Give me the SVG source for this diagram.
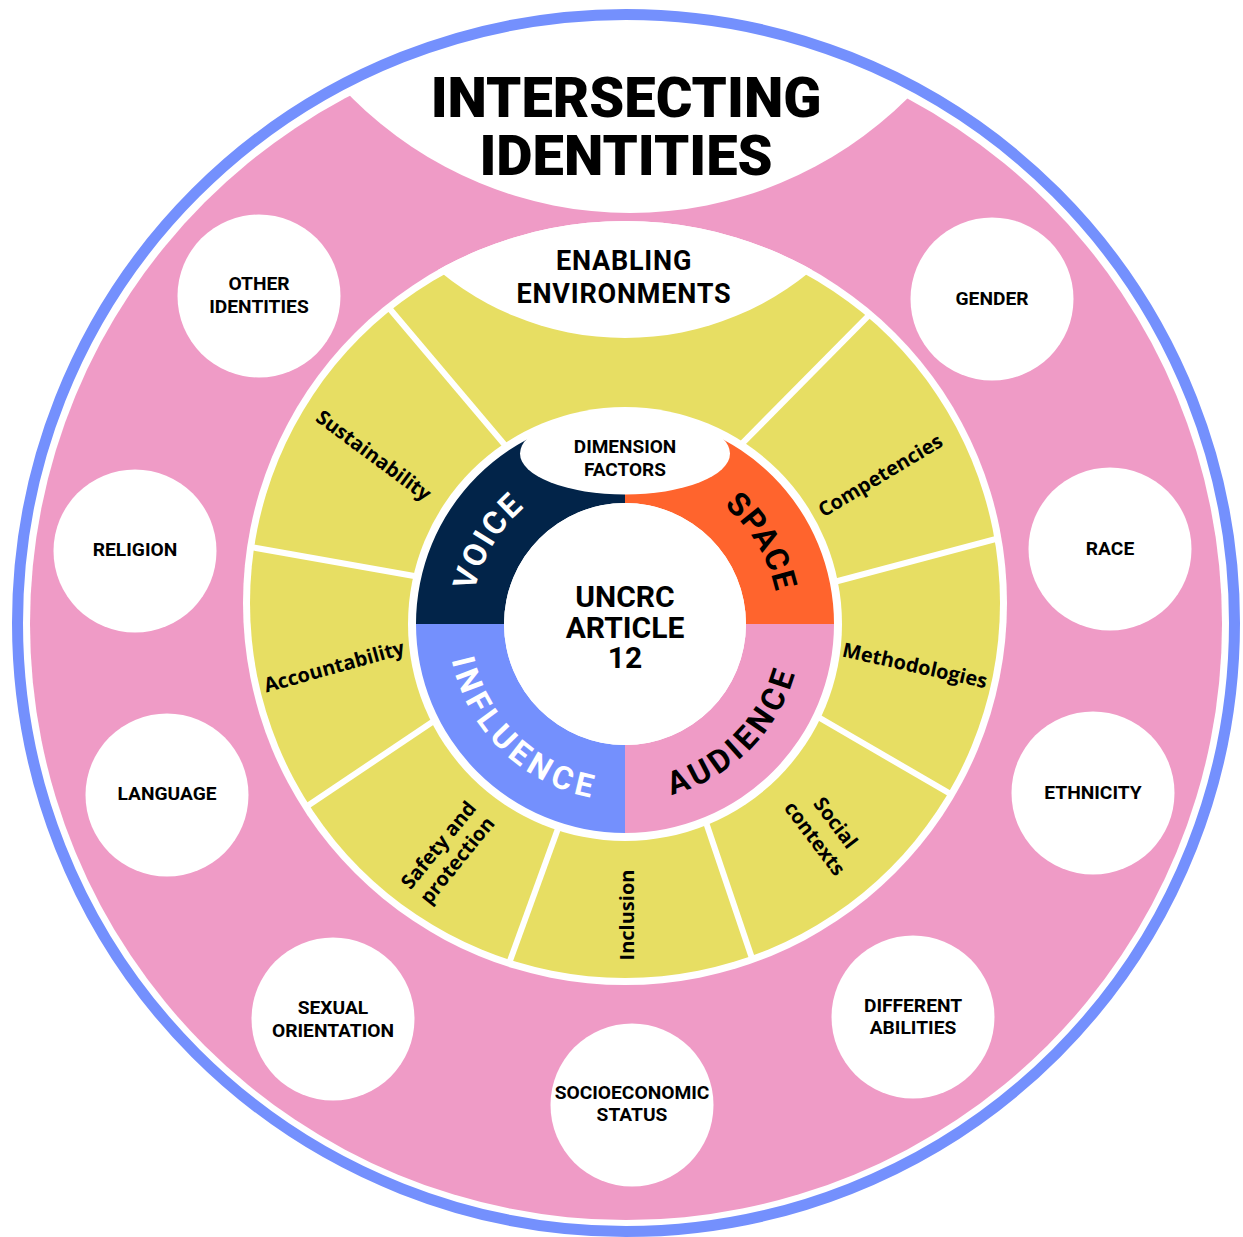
<svg xmlns="http://www.w3.org/2000/svg" xmlns:xlink="http://www.w3.org/1999/xlink" width="1243" height="1237" viewBox="0 0 1243 1237">
  <defs>
    <style>
      .title{font-family:Roboto,"Liberation Sans",sans-serif;font-weight:900;font-size:56px;fill:#000;text-anchor:middle}
      .env{font-family:Roboto,"Liberation Sans",sans-serif;font-weight:700;font-size:27px;letter-spacing:0.8px;fill:#000;text-anchor:middle}
      .dimf{font-family:Roboto,"Liberation Sans",sans-serif;font-weight:700;font-size:19px;fill:#000;text-anchor:middle}
      .center{font-family:Roboto,"Liberation Sans",sans-serif;font-weight:700;font-size:30px;fill:#000;text-anchor:middle}
      .dim{font-family:Roboto,"Liberation Sans",sans-serif;font-weight:700;font-size:32px;text-anchor:middle}
      .seg{font-family:"Open Sans","Liberation Sans",sans-serif;font-weight:700;font-size:20px;fill:#000;text-anchor:middle;dominant-baseline:central}
      .id{font-family:Roboto,"Liberation Sans",sans-serif;font-weight:700;font-size:19.2px;fill:#000;text-anchor:middle}
      .idc{fill:#fff}
      .div{stroke:#fff;stroke-width:6;fill:none}
    </style>
    <clipPath id="ringClip"><circle cx="625" cy="603" r="382"/></clipPath>
    <clipPath id="yellowClip"><circle cx="625" cy="603" r="376"/></clipPath>
    <path id="arcVoice" d="M 490.3,698.7 A 154 154 0 0 1 627.7,470"/>
    <path id="arcSpace" d="M 622.3,470 A 154 154 0 0 1 759.7,698.7"/>
    <path id="arcInfluence" d="M 453.3,581.2 A 177 177 0 0 0 673.8,794.1"/>
    <path id="arcAudience" d="M 582.2,795.8 A 177 177 0 0 0 796.8,581.2"/>
  </defs>

  <rect x="0" y="0" width="1243" height="1237" fill="#fff"/>

  <g id="outer-ring">
    <circle cx="626" cy="624" r="596" fill="#EF9BC6"/>
    <circle cx="630" cy="-180" r="393" fill="#fff"/>
    <circle cx="626" cy="623" r="608.5" fill="none" stroke="#7490FD" stroke-width="11"/>
  </g>

  <g id="title">
    <text class="title" x="626" y="117">INTERSECTING</text>
    <text class="title" x="626" y="175">IDENTITIES</text>
  </g>

  <g id="enabling-ring">
    <circle cx="625" cy="603" r="382" fill="#fff"/>
    <circle cx="625" cy="603" r="375" fill="#E7DE63"/>
    <circle cx="625" cy="47" r="291" fill="#fff" clip-path="url(#ringClip)"/>
  </g>

  <g id="connectors" clip-path="url(#yellowClip)">
    <line class="div" x1="539.5" y1="486" x2="373" y2="289"/>
    <line class="div" x1="707" y1="479" x2="885" y2="299"/>
    <line class="div" x1="465" y1="585" x2="228" y2="543"/>
    <line class="div" x1="789" y1="594" x2="1022" y2="532"/>
    <line class="div" x1="471" y1="696" x2="291" y2="817"/>
    <line class="div" x1="782" y1="696" x2="966" y2="803"/>
    <line class="div" x1="572" y1="790" x2="503" y2="980"/>
    <line class="div" x1="694" y1="787" x2="758" y2="976"/>
  </g>

  <g id="enabling-environments">
    <text class="env" x="624" y="270">ENABLING</text>
    <text class="env" x="624" y="303">ENVIRONMENTS</text>
  </g>

  <g id="seg-sustainability"><text class="seg" transform="translate(374,455) rotate(36.5)">Sustainability</text></g>
  <g id="seg-competencies"><text class="seg" transform="translate(880,475) rotate(-31)">Competencies</text></g>
  <g id="seg-accountability"><text class="seg" transform="translate(334,666) rotate(-15.5)">Accountability</text></g>
  <g id="seg-methodologies"><text class="seg" transform="translate(915,665) rotate(12.5)">Methodologies</text></g>
  <g id="seg-safety"><text class="seg" transform="translate(447,852) rotate(-51)"><tspan x="0" y="-12">Safety and</tspan><tspan x="0" y="12">protection</tspan></text></g>
  <g id="seg-inclusion"><text class="seg" transform="translate(626,915) rotate(-90)">Inclusion</text></g>
  <g id="seg-social"><text class="seg" transform="translate(826,830) rotate(53)"><tspan x="0" y="-13">Social</tspan><tspan x="0" y="13">contexts</tspan></text></g>

  <g id="dimension-ring">
    <circle cx="625" cy="624" r="217" fill="#fff"/>
    <g id="dim-voice">
      <path d="M 416,624 A 209 209 0 0 1 625,415 L 625,503 A 121 121 0 0 0 504,624 Z" fill="#022449"/>
      <text class="dim" fill="#fff" letter-spacing="2"><textPath href="#arcVoice" xlink:href="#arcVoice" startOffset="50%">VOICE</textPath></text>
    </g>
    <g id="dim-space">
      <path d="M 625,415 A 209 209 0 0 1 834,624 L 746,624 A 121 121 0 0 0 625,503 Z" fill="#FF642D"/>
      <text class="dim" fill="#000" letter-spacing="1"><textPath href="#arcSpace" xlink:href="#arcSpace" startOffset="50%">SPACE</textPath></text>
    </g>
    <g id="dim-audience">
      <path d="M 834,624 A 209 209 0 0 1 625,833 L 625,745 A 121 121 0 0 0 746,624 Z" fill="#EF9BC6"/>
      <text class="dim" fill="#000" letter-spacing="4"><textPath href="#arcAudience" xlink:href="#arcAudience" startOffset="50%">AUDIENCE</textPath></text>
    </g>
    <g id="dim-influence">
      <path d="M 625,833 A 209 209 0 0 1 416,624 L 504,624 A 121 121 0 0 0 625,745 Z" fill="#7490FD"/>
      <text class="dim" fill="#fff" letter-spacing="5"><textPath href="#arcInfluence" xlink:href="#arcInfluence" startOffset="50%">INFLUENCE</textPath></text>
    </g>
    <g id="dimension-factors">
      <ellipse cx="625" cy="453.5" rx="105" ry="41" fill="#fff"/>
      <text class="dimf" x="625" y="453">DIMENSION</text>
      <text class="dimf" x="625" y="476">FACTORS</text>
    </g>
  </g>

  <g id="uncrc">
    <circle cx="625" cy="624" r="121" fill="#fff"/>
    <text class="center" x="625" y="607">UNCRC</text>
    <text class="center" x="625" y="638">ARTICLE</text>
    <text class="center" x="625" y="668">12</text>
  </g>

  <g id="id-other"><circle class="idc" cx="259" cy="296" r="81.5"/><text class="id" x="259" y="290">OTHER</text><text class="id" x="259" y="313">IDENTITIES</text></g>
  <g id="id-gender"><circle class="idc" cx="992" cy="299" r="81.5"/><text class="id" x="992" y="305">GENDER</text></g>
  <g id="id-religion"><circle class="idc" cx="135" cy="551" r="81.5"/><text class="id" x="135" y="556">RELIGION</text></g>
  <g id="id-race"><circle class="idc" cx="1110" cy="549" r="81.5"/><text class="id" x="1110" y="555">RACE</text></g>
  <g id="id-language"><circle class="idc" cx="167" cy="795" r="81.5"/><text class="id" x="167" y="800">LANGUAGE</text></g>
  <g id="id-ethnicity"><circle class="idc" cx="1093" cy="793" r="81.5"/><text class="id" x="1093" y="799">ETHNICITY</text></g>
  <g id="id-sexual"><circle class="idc" cx="333" cy="1019" r="81.5"/><text class="id" x="333" y="1014">SEXUAL</text><text class="id" x="333" y="1037">ORIENTATION</text></g>
  <g id="id-abilities"><circle class="idc" cx="913" cy="1017" r="81.5"/><text class="id" x="913" y="1012">DIFFERENT</text><text class="id" x="913" y="1034">ABILITIES</text></g>
  <g id="id-socio"><circle class="idc" cx="632" cy="1105" r="81.5"/><text class="id" x="632" y="1099">SOCIOECONOMIC</text><text class="id" x="632" y="1121">STATUS</text></g>
</svg>
